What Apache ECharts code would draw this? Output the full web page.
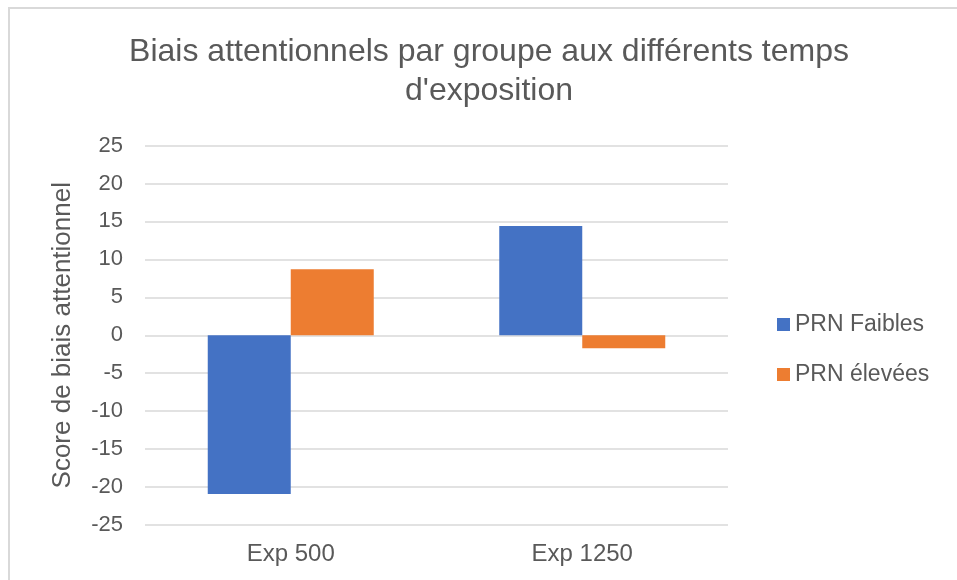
<!DOCTYPE html>
<html>
<head>
<meta charset="utf-8">
<script src="https://cdn.jsdelivr.net/npm/echarts@6/dist/echarts.min.js"></script>
<style>
    html, body { margin: 0; padding: 0; background: #fff; }
    #chart { width: 957px; height: 580px; }
</style>
</head>
<body>
<div id="chart"></div>
<script>
// données
const categories = ["Exp 500", "Exp 1250"];
const seriesNames = ["PRN Faibles", "PRN élevées"];
const prnFaibles = [-20.9, 14.4];
const prnElevees = [8.7, -1.7];

const chart = echarts.init(document.getElementById("chart"));
const grey = "#595959";
const font = "Liberation Sans, Arial, sans-serif";

chart.setOption({
    animation: false,
    textStyle: { fontFamily: font },
    title: {
        text: "Biais attentionnels par groupe aux différents temps\nd'exposition",
        left: 489,
        textAlign: "center",
        top: 33,
        padding: 0,
        textStyle: {
            fontFamily: font,
            fontSize: 32,
            fontWeight: "normal",
            color: grey,
            lineHeight: 39
        }
    },
    graphic: [{
        type: "rect",
        shape: { x: 9, y: 8, width: 1000, height: 1000 },
        style: { fill: null, stroke: "#d9d9d9", lineWidth: 2 },
        silent: true
    }],
    legend: {
        orient: "vertical",
        left: 777,
        top: 313,
        padding: 0,
        itemWidth: 13,
        itemHeight: 13,
        itemGap: 27,
        icon: "rect",
        data: seriesNames,
        textStyle: { fontFamily: font, fontSize: 23, color: grey, padding: [0, 0, 0, 0] }
    },
    grid: {
        left: 145,
        right: 229,
        top: 145.5,
        bottom: 55
    },
    xAxis: {
        type: "category",
        data: categories,
        axisLine: { show: false },
        axisTick: { show: false },
        axisLabel: { fontFamily: font, fontSize: 24, color: grey, margin: 17 }
    },
    yAxis: {
        type: "value",
        min: -25,
        max: 25,
        interval: 5,
        name: "Score de biais attentionnel",
        nameLocation: "middle",
        nameGap: 69,
        nameTextStyle: { fontFamily: font, fontSize: 26, color: grey },
        axisLine: { show: false },
        axisTick: { show: false },
        axisLabel: { fontFamily: font, fontSize: 22, color: grey, margin: 22 },
        splitLine: { lineStyle: { color: "#d9d9d9", width: 1.5 } }
    },
    series: [
        {
            name: seriesNames[0],
            type: "bar",
            data: prnFaibles,
            barWidth: 83,
            barGap: "0%",
            itemStyle: { color: "#4472C4" }
        },
        {
            name: seriesNames[1],
            type: "bar",
            data: prnElevees,
            barWidth: 83,
            barGap: "0%",
            itemStyle: { color: "#ED7D31" }
        }
    ]
});
</script>
</body>
</html>
